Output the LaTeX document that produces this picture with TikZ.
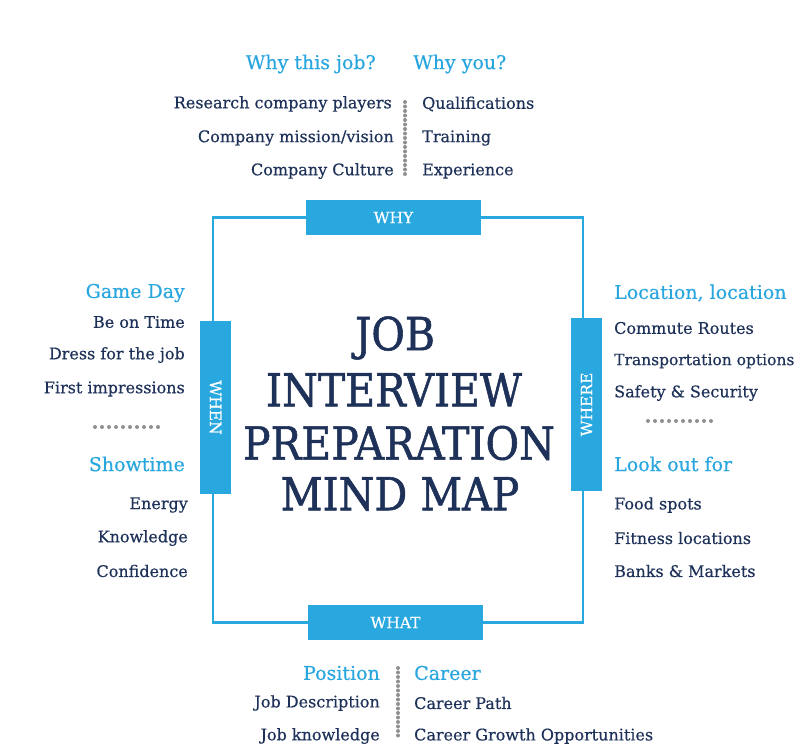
\documentclass[tikz,border=0pt]{standalone}
\usepackage{fontspec}
\setmainfont[FakeBold=0.5]{DejaVu Serif}
\newfontfamily\titlefont[FakeBold=1.2]{DejaVu Serif Condensed}
\definecolor{navy}{HTML}{1E3158}
\definecolor{skyblue}{HTML}{2AA6DF}
\definecolor{boxblue}{HTML}{29A8E0}
\definecolor{dotgray}{HTML}{909090}
\tikzset{
  catbox/.style={fill=boxblue, draw=none, text=white, font=\fontsize{15.5}{15.5}\selectfont, inner sep=0pt, align=center},
  frame/.style={draw=boxblue, line width=2.6pt},
  head/.style={text=skyblue, font=\fontsize{19}{19}\selectfont, inner sep=0pt},
  item/.style={text=navy, font=\fontsize{16}{16}\selectfont, inner sep=0pt},
  vdots/.style={draw=dotgray, line width=4pt, line cap=round, dash pattern=on 0pt off 4.5pt},
  hdots/.style={draw=dotgray, line width=4pt, line cap=round, dash pattern=on 0pt off 7pt},
  titleline/.style={text=navy, font=\titlefont\fontsize{45.5}{45.5}\selectfont, inner sep=0pt}
}
\begin{document}
\begin{tikzpicture}[x=1pt,y=-1pt]
\useasboundingbox (0,0) rectangle (800,755);
% category boxes
\node[catbox, minimum width=175pt, minimum height=35pt] (why) at (393.5,217.5) {WHY};
\node[catbox, minimum width=175pt, minimum height=35pt] (what) at (395.5,622.5) {WHAT};
\node[catbox, minimum width=31pt, minimum height=173pt] (when) at (215.5,407.5) {};
\node[catbox, rotate=-90] (whenlbl) at (when.center) {WHEN};
\node[catbox, minimum width=31pt, minimum height=173pt] (where) at (586.5,404.5) {};
\node[catbox, rotate=90] (wherelbl) at (where.center) {WHERE};
% frame connectors
\coordinate (tl) at (213,217.5);
\coordinate (tr) at (583,217.5);
\coordinate (bl) at (213,622.5);
\coordinate (br) at (583,622.5);
\draw[frame] (why.west) -- (tl) -- (when.north -| tl);
\draw[frame] (when.south -| tl) -- (bl) -- (what.west);
\draw[frame] (why.east) -- (tr) -- (where.north -| tr);
\draw[frame] (where.south -| tr) -- (br) -- (what.east);
% title
\node[titleline] (t1) at (395,338) {JOB};
\node[titleline] (t2) at (394,390) {INTERVIEW};
\node[titleline] (t3) at (399,443) {PREPARATION};
\node[titleline] (t4) at (400,494) {MIND MAP};
% top
\node[head, anchor=east] (whyjob) at (376,64) {Why this job?};
\node[head, anchor=west] (whyyou) at (413,64) {Why you?};
\node[item, anchor=east] (r1) at (392,104) {Research company players};
\node[item, anchor=east] (r2) at (394,138) {Company mission/vision};
\node[item, anchor=east] (r3) at (394,171) {Company Culture};
\node[item, anchor=west] (q1) at (422,104) {Qualifications};
\node[item, anchor=west] (q2) at (422,138) {Training};
\node[item, anchor=west] (q3) at (422,171) {Experience};
\coordinate (td1) at (405,102);
\coordinate (td2) at (405,175);
\draw[vdots] (td1) -- (td2);
% left
\node[head, anchor=east] (gameday) at (185,293) {Game Day};
\node[item, anchor=east] (l1) at (185,322) {Be on Time};
\node[item, anchor=east] (l2) at (185,355) {Dress for the job};
\node[item, anchor=east] (l3) at (185,389) {First impressions};
\coordinate (ld1) at (95,427);
\coordinate (ld2) at (165,427);
\draw[hdots] (ld1) -- (ld2);
\node[head, anchor=east] (showtime) at (185,464) {Showtime};
\node[item, anchor=east] (l4) at (188,505) {Energy};
\node[item, anchor=east] (l5) at (188,538) {Knowledge};
\node[item, anchor=east] (l6) at (188,571) {Confidence};
% right
\node[head, anchor=west] (locloc) at (614,293) {Location, location};
\node[item, anchor=west] (g1) at (614,328) {Commute Routes};
\node[item, anchor=west, font=\fontsize{15.5}{15.5}\selectfont] (g2) at (614,361) {Transportation options};
\node[item, anchor=west] (g3) at (614,393) {Safety \& Security};
\coordinate (rd1) at (648,421);
\coordinate (rd2) at (718,421);
\draw[hdots] (rd1) -- (rd2);
\node[head, anchor=west] (lookout) at (614,464) {Look out for};
\node[item, anchor=west] (g4) at (614,505) {Food spots};
\node[item, anchor=west] (g5) at (614,538) {Fitness locations};
\node[item, anchor=west] (g6) at (614,571) {Banks \& Markets};
% bottom
\node[head, anchor=east] (position) at (380,673) {Position};
\node[head, anchor=west] (career) at (414,673) {Career};
\node[item, anchor=east] (b1) at (380,703) {Job Description};
\node[item, anchor=east] (b2) at (380,736) {Job knowledge};
\node[item, anchor=west] (c1) at (414,703) {Career Path};
\node[item, anchor=west] (c2) at (414,736) {Career Growth Opportunities};
\coordinate (bd1) at (398,668);
\coordinate (bd2) at (398,740);
\draw[vdots] (bd1) -- (bd2);
\end{tikzpicture}
\end{document}
